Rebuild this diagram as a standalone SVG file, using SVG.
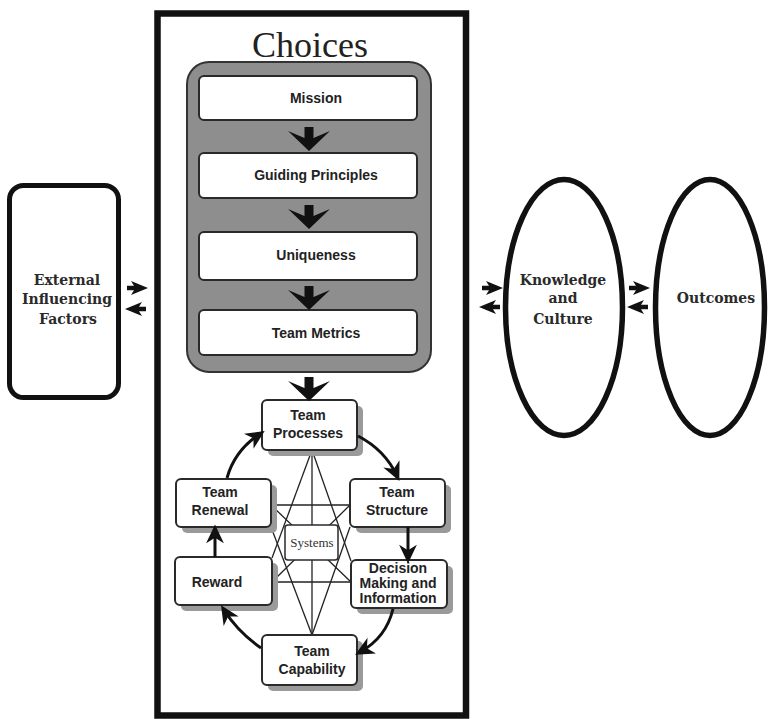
<svg xmlns="http://www.w3.org/2000/svg" width="768" height="719" viewBox="0 0 768 719">
  <defs>
    <style>
      .frame { fill: #ffffff; stroke: #111; }
      .step { fill: #ffffff; stroke: #2a2a2a; stroke-width: 2; }
      .node { fill: #ffffff; stroke: #2a2a2a; stroke-width: 2; }
      .shadow { fill: #9a9a9a; }
      .sans { font-family: "Liberation Sans", Arial, sans-serif; font-weight: bold; font-size: 14px; fill: #222; text-anchor: middle; }
      .serif { font-family: "DejaVu Serif", "Liberation Serif", serif; font-weight: bold; font-size: 14px; fill: #2a2a2a; text-anchor: middle; }
      .cycle { fill: none; stroke: #111; stroke-width: 3; marker-end: url(#head); }
      .star { stroke: #222; stroke-width: 1.3; fill: none; }
      .blk { fill: #111; }
    </style>
    <marker id="head" markerUnits="userSpaceOnUse" markerWidth="20" markerHeight="20" viewBox="0 -9 18 18" refX="12" refY="0" orient="auto" overflow="visible">
      <path d="M0,-8 L17,0 L0,8 L5,0 Z" fill="#111"/>
    </marker>
    <path id="down" d="M-4.5,0 H4.5 V11 L21,4 L0,24 L-21,4 L-4.5,11 Z"/>
    <path id="right" d="M0,-2.2 H7 L4,-7 L21,0 L4,7 L7,2.2 H0 Z"/>
  </defs>

  <!-- outer boxes -->
  <g id="external">
    <rect class="frame" x="9.5" y="185.5" width="109" height="212" rx="14" stroke-width="5"/>
    <text class="serif" x="67" y="285">External</text>
    <text class="serif" x="67" y="304">Influencing</text>
    <text class="serif" x="68" y="324">Factors</text>
  </g>

  <g id="choices">
    <rect class="frame" x="157.5" y="13.5" width="308.5" height="702" stroke-width="6.5"/>
    <text x="310" y="57" font-family="Liberation Serif, serif" font-size="36" fill="#222" text-anchor="middle">Choices</text>
    <rect x="187" y="62" width="244" height="310" rx="22" fill="#8e8e8e" stroke="#333" stroke-width="2"/>
  </g>

  <g id="knowledge">
    <ellipse class="frame" cx="564" cy="307.5" rx="58.5" ry="128" stroke-width="5.5"/>
    <text class="serif" x="563" y="285">Knowledge</text>
    <text class="serif" x="563" y="303">and</text>
    <text class="serif" x="563" y="324">Culture</text>
  </g>

  <g id="outcomes">
    <ellipse class="frame" cx="710" cy="307.5" rx="54.5" ry="128" stroke-width="5.5"/>
    <text class="serif" x="716" y="303">Outcomes</text>
  </g>

  <!-- steps inside the choices panel -->
  <g id="mission">
    <rect class="step" x="199" y="76" width="218" height="44" rx="5"/>
    <text class="sans" x="316" y="103">Mission</text>
  </g>
  <g id="guiding-principles">
    <rect class="step" x="199" y="153" width="218" height="45" rx="5"/>
    <text class="sans" x="316" y="180">Guiding Principles</text>
  </g>
  <g id="uniqueness">
    <rect class="step" x="199" y="232" width="218" height="48" rx="5"/>
    <text class="sans" x="316" y="260">Uniqueness</text>
  </g>
  <g id="team-metrics">
    <rect class="step" x="199" y="310" width="218" height="45" rx="5"/>
    <text class="sans" x="316" y="338">Team Metrics</text>
  </g>

  <!-- systems star (drawn beneath the cycle nodes) -->
  <g id="systems-links">
    <line class="star" x1="312" y1="450" x2="312" y2="635"/>
    <line class="star" x1="271" y1="505" x2="350" y2="505"/>
    <line class="star" x1="272" y1="582" x2="351" y2="582"/>
    <line class="star" x1="312" y1="450" x2="272" y2="558"/>
    <line class="star" x1="312" y1="450" x2="351" y2="561"/>
    <line class="star" x1="312" y1="635" x2="271" y2="527"/>
    <line class="star" x1="312" y1="635" x2="350" y2="527"/>
    <line class="star" x1="271" y1="505" x2="351" y2="582"/>
    <line class="star" x1="350" y1="505" x2="272" y2="582"/>
  </g>

  <!-- cycle nodes -->
  <g id="team-processes">
    <rect class="shadow" x="268" y="406" width="95" height="50" rx="5"/>
    <rect class="node" x="262" y="400" width="95" height="50" rx="5"/>
    <text class="sans" x="308" y="420">Team</text>
    <text class="sans" x="308" y="438">Processes</text>
  </g>
  <g id="team-structure">
    <rect class="shadow" x="356" y="485" width="95" height="48" rx="5"/>
    <rect class="node" x="350" y="479" width="95" height="48" rx="5"/>
    <text class="sans" x="397" y="497">Team</text>
    <text class="sans" x="397" y="515">Structure</text>
  </g>
  <g id="decision-making">
    <rect class="shadow" x="357" y="566" width="96" height="48" rx="5"/>
    <rect class="node" x="351" y="560" width="96" height="48" rx="5"/>
    <text class="sans" x="398" y="573">Decision</text>
    <text class="sans" x="398" y="588">Making and</text>
    <text class="sans" x="398" y="603">Information</text>
  </g>
  <g id="team-capability">
    <rect class="shadow" x="268" y="641" width="95" height="50" rx="5"/>
    <rect class="node" x="262" y="635" width="95" height="50" rx="5"/>
    <text class="sans" x="312" y="656">Team</text>
    <text class="sans" x="312" y="674">Capability</text>
  </g>
  <g id="reward">
    <rect class="shadow" x="181" y="563" width="97" height="48" rx="5"/>
    <rect class="node" x="175" y="557" width="97" height="48" rx="5"/>
    <text class="sans" x="217" y="587">Reward</text>
  </g>
  <g id="team-renewal">
    <rect class="shadow" x="182" y="485" width="95" height="48" rx="5"/>
    <rect class="node" x="176" y="479" width="95" height="48" rx="5"/>
    <text class="sans" x="220" y="497">Team</text>
    <text class="sans" x="220" y="515">Renewal</text>
  </g>
  <g id="systems">
    <rect x="285" y="525" width="53" height="35" rx="3" fill="#fff" stroke="#2a2a2a" stroke-width="1.5"/>
    <text x="312" y="547" font-family="Liberation Serif, serif" font-size="13" fill="#333" text-anchor="middle">Systems</text>
  </g>

  <!-- connectors -->
  <g id="connectors">
    <use href="#down" class="blk" x="309" y="127"/>
    <use href="#down" class="blk" x="309" y="205"/>
    <use href="#down" class="blk" x="309" y="286"/>
    <use href="#down" class="blk" x="309" y="377"/>

    <path class="cycle" d="M358,436 Q385,450 397,476"/>
    <path class="cycle" d="M408,527 V558"/>
    <path class="cycle" d="M393,609 Q386,638 360,652"/>
    <path class="cycle" d="M261,648 Q238,632 224,610"/>
    <path class="cycle" d="M215,557 V530"/>
    <path class="cycle" d="M227,478 Q235,450 260,434"/>

    <use href="#right" class="blk" x="127" y="288"/>
    <use href="#right" class="blk" transform="translate(146,309) scale(-1,1)"/>
    <use href="#right" class="blk" x="482" y="288"/>
    <use href="#right" class="blk" transform="translate(500,307) scale(-1,1)"/>
    <use href="#right" class="blk" x="629" y="288"/>
    <use href="#right" class="blk" transform="translate(648,307) scale(-1,1)"/>
  </g>
</svg>
